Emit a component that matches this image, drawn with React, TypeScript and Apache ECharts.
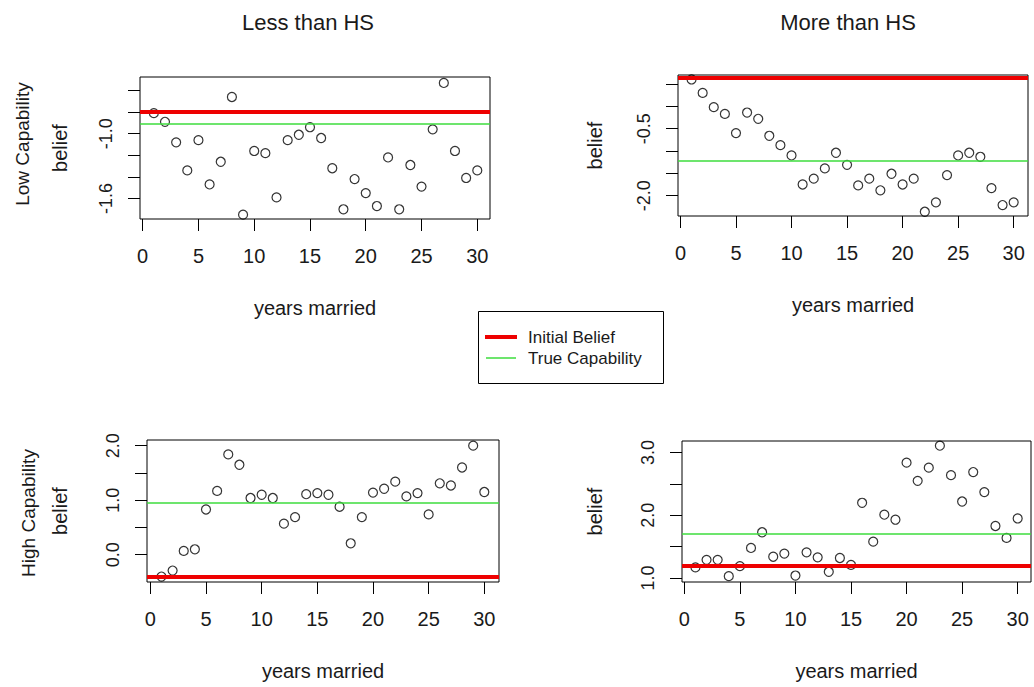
import React, { useEffect, useRef } from "react";
import * as echarts from "echarts";

const years = [1, 2, 3, 4, 5, 6, 7, 8, 9, 10, 11, 12, 13, 14, 15, 16, 17, 18, 19, 20, 21, 22, 23, 24, 25, 26, 27, 28, 29, 30];

const lessLow = [-0.81, -0.89, -1.08, -1.34, -1.06, -1.47, -1.26, -0.66, -1.75, -1.16, -1.18, -1.59, -1.06, -1.01, -0.94, -1.04, -1.32, -1.7, -1.42, -1.55, -1.67, -1.22, -1.7, -1.29, -1.49, -0.96, -0.53, -1.16, -1.41, -1.34];
const moreLow = [0.6, 0.3, -0.02, -0.17, -0.6, -0.14, -0.28, -0.66, -0.87, -1.1, -1.75, -1.62, -1.39, -1.04, -1.31, -1.77, -1.62, -1.88, -1.51, -1.75, -1.62, -2.36, -2.15, -1.54, -1.1, -1.04, -1.13, -1.83, -2.21, -2.15];
const lessHigh = [-0.4, -0.29, 0.07, 0.1, 0.83, 1.17, 1.84, 1.65, 1.04, 1.1, 1.04, 0.57, 0.69, 1.11, 1.13, 1.1, 0.88, 0.21, 0.69, 1.14, 1.21, 1.34, 1.07, 1.13, 0.74, 1.31, 1.27, 1.6, 2.0, 1.15];
const moreHigh = [1.17, 1.29, 1.29, 1.03, 1.19, 1.48, 1.73, 1.34, 1.39, 1.04, 1.41, 1.33, 1.1, 1.32, 1.21, 2.2, 1.58, 2.01, 1.93, 2.84, 2.55, 2.76, 3.11, 2.64, 2.22, 2.69, 2.37, 1.83, 1.64, 1.95];

// per panel: Less-Low, More-Low, Less-High, More-High
const initialBelief = [-0.8, 0.63, -0.4, 1.2];
const trueCapability = [-0.91, -1.22, 0.96, 1.71];

const xTicks = [0, 5, 10, 15, 20, 25, 30];
const yTicks = [
  [-1.6, -1.4, -1.2, -1.0, -0.8, -0.6],
  [-2.0, -1.5, -1.0, -0.5, 0.0, 0.5],
  [0.0, 0.5, 1.0, 1.5, 2.0],
  [1.0, 1.5, 2.0, 2.5, 3.0],
];
const yLabels = [
  [-1.6, -1.0],
  [-2.0, -0.5],
  [0.0, 1.0, 2.0],
  [1.0, 2.0, 3.0],
];
const columnTitles = ["Less than HS", "More than HS"];
const rowTitles = ["Low Capability", "High Capability"];
const xTitle = "years married";
const yTitle = "belief";
const legendNames = ["Initial Belief", "True Capability"];

const panelSeries = [lessLow, moreLow, lessHigh, moreHigh];

const FONT = "'Liberation Sans', Arial, sans-serif";
const TXT = "#1a1a1a";
const RED = "#ee0000";
const GREEN = "#3ddc3d";

const grids = [
  { left: 140, top: 77, width: 350, height: 142 },
  { left: 678, top: 75, width: 350, height: 141 },
  { left: 147, top: 440, width: 352, height: 142 },
  { left: 682, top: 441, width: 349, height: 141 },
];
const xRanges = [
  [-0.24, 31.14],
  [-0.22, 31.29],
  [-0.3, 31.32],
  [-0.21, 31.2],
];
const yRanges = [
  [-1.79, -0.475],
  [-2.455, 0.7],
  [-0.5, 2.104],
  [0.937, 3.185],
];

export default function App() {
  const ref = useRef<HTMLDivElement>(null);

  useEffect(() => {
    if (!ref.current) return;
    const chart = echarts.init(ref.current, null, { renderer: "svg" });

    const xAxis = grids.map((_, i) => ({
      type: "value",
      gridIndex: i,
      min: xRanges[i][0],
      max: xRanges[i][1],
      axisLine: { show: false, onZero: false },
      splitLine: { show: false },
      axisTick: {
        show: true,
        length: 12,
        customValues: xTicks,
        lineStyle: { color: "#000", width: 1 },
      },
      axisLabel: {
        customValues: xTicks,
        margin: 27,
        fontSize: 20,
        color: TXT,
        fontFamily: FONT,
        hideOverlap: false,
      },
    }));

    const yAxis = grids.map((_, i) => ({
      type: "value",
      gridIndex: i,
      min: yRanges[i][0],
      max: yRanges[i][1],
      axisLine: { show: false, onZero: false },
      splitLine: { show: false },
      axisTick: {
        show: true,
        length: 12,
        customValues: yTicks[i],
        lineStyle: { color: "#000", width: 1 },
      },
      axisLabel: {
        customValues: yLabels[i],
        rotate: 90,
        margin: 25,
        fontSize: 18,
        color: TXT,
        fontFamily: FONT,
        hideOverlap: false,
        formatter: (v: number) => v.toFixed(1),
      },
    }));

    const series: any[] = [];
    panelSeries.forEach((vals, i) => {
      series.push({
        type: "scatter",
        xAxisIndex: i,
        yAxisIndex: i,
        z: 2,
        symbol: "circle",
        symbolSize: 9,
        itemStyle: { color: "rgba(0,0,0,0)", borderColor: "#000", borderWidth: 1.2 },
        data: years.map((y, k) => [y, vals[k]]),
        markLine: {
          silent: true,
          symbol: ["none", "none"],
          label: { show: false },
          z: 5,
          data: [
            { yAxis: initialBelief[i], lineStyle: { color: RED, width: 4, type: "solid" } },
            { yAxis: trueCapability[i], lineStyle: { color: GREEN, width: 1.5, type: "solid" } },
          ],
        },
      });
    });

    const centerX = (g: any) => g.left + g.width / 2;
    const centerY = (g: any) => g.top + g.height / 2;
    const txt = (text: string, x: number, y: number, size: number, rot = 0, align = "center") => ({
      type: "text",
      x,
      y,
      rotation: rot,
      style: {
        text,
        fontSize: size,
        fontFamily: FONT,
        fill: TXT,
        textAlign: align,
        textVerticalAlign: "middle",
      },
    });

    const graphic: any[] = [
      txt(columnTitles[0], 308, 22, 22),
      txt(columnTitles[1], 848, 22, 22),
      txt(rowTitles[0], 22, centerY(grids[0]) - 4, 19, Math.PI / 2),
      txt(rowTitles[1], 28, centerY(grids[2]) + 2, 19, Math.PI / 2),
    ];
    grids.forEach((g, i) => {
      graphic.push(txt(xTitle, centerX(g), g.top + g.height + 89, 20));
      graphic.push(txt(yTitle, i % 2 === 0 ? 60 : 595, centerY(g), 20, Math.PI / 2));
    });
    // legend box
    graphic.push({
      type: "rect",
      shape: { x: 478.5, y: 311.5, width: 185, height: 72 },
      style: { fill: "#fff", stroke: "#000", lineWidth: 1 },
    });
    graphic.push({
      type: "line",
      shape: { x1: 485, y1: 337, x2: 517, y2: 337 },
      style: { stroke: RED, lineWidth: 4 },
    });
    graphic.push({
      type: "line",
      shape: { x1: 486, y1: 358, x2: 516, y2: 358 },
      style: { stroke: GREEN, lineWidth: 1.5 },
    });
    graphic.push(txt(legendNames[0], 528, 337, 17, 0, "left"));
    graphic.push(txt(legendNames[1], 528, 358, 17, 0, "left"));

    chart.setOption({
      animation: false,
      backgroundColor: "#fff",
      grid: grids.map((g) => ({ ...g, show: true, borderColor: "#000", borderWidth: 1, backgroundColor: "transparent" })),
      xAxis,
      yAxis,
      series,
      graphic,
    });

    return () => chart.dispose();
  }, []);

  return (
    <div
      ref={ref}
      style={{ position: "absolute", left: 0, top: 0, width: 1034, height: 687, background: "#fff" }}
    />
  );
}
